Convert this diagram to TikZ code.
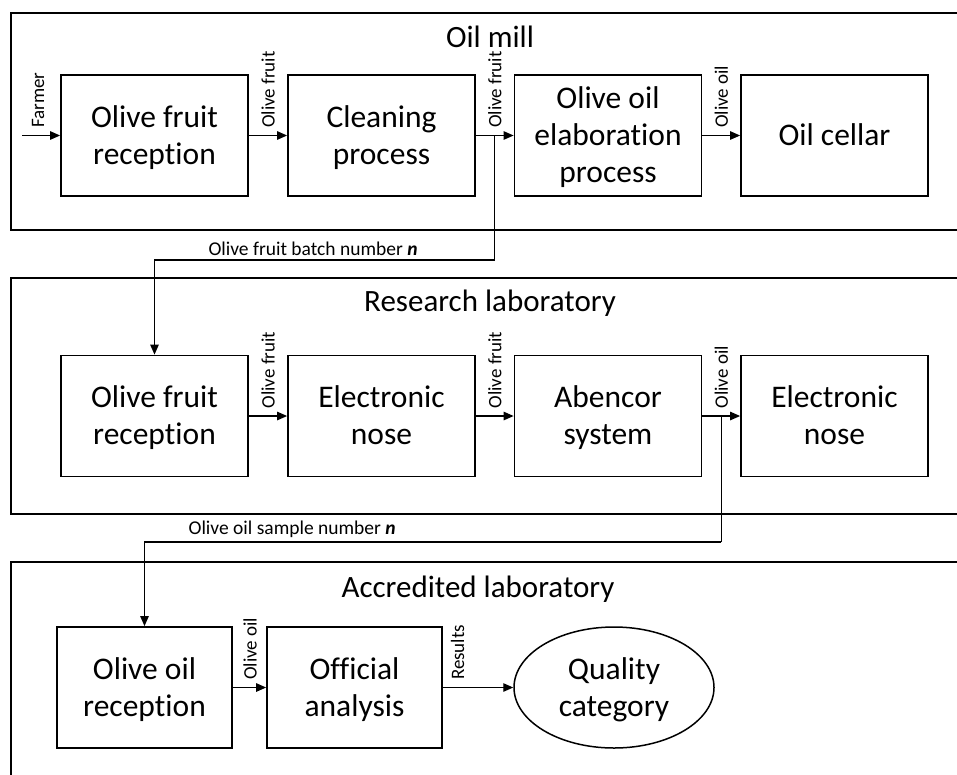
\documentclass[tikz,border=0pt]{standalone}
\usepackage{fontspec}
\setmainfont[Ligatures=NoCommon]{Carlito}
\usetikzlibrary{arrows.meta,shapes.geometric,calc}
\newcommand\ls{\rule[-8pt]{0pt}{36pt}}
\begin{document}
\begin{tikzpicture}[x=1pt,y=-1pt,
  section/.style={draw,line width=1.8pt,anchor=north west,inner sep=0pt},
  title/.style={font=\fontsize{31}{37}\selectfont,inner sep=0pt},
  proc/.style={draw,line width=1.8pt,minimum width=187pt,minimum height=121pt,inner sep=0pt,align=center,font=\fontsize{31.5}{37}\selectfont},
  procn/.style={proc,minimum width=175pt},
  oval/.style={draw,ellipse,line width=1.5pt,minimum width=200pt,minimum height=121pt,inner sep=0pt,align=center,font=\fontsize{31.5}{37}\selectfont},
  conn/.style={line width=1.2pt},
  arr/.style={conn,-{Triangle[length=10pt,width=8.5pt]}},
  lab/.style={rotate=90,anchor=west,inner sep=0pt,xshift=7pt,font=\fontsize{19}{22}\selectfont},
  blab/.style={anchor=south,inner sep=0pt,yshift=4pt,font=\fontsize{19.5}{22}\selectfont}
]
\useasboundingbox (0,0) rectangle (957,774);
\clip (0,0) rectangle (957,774);
\fill[white] (0,0) rectangle (957,774);

% sections
\node[section,minimum width=990pt,minimum height=217pt] (sec1) at (10,12) {};
\node[section,minimum width=990pt,minimum height=236pt] (sec2) at (10,277) {};
\node[section,minimum width=990pt,minimum height=260pt] (sec3) at (10,561) {};
\node[title] (t1) at (490,37) {Oil mill};
\node[title] (t2) at (490,303) {Research laboratory};
\node[title] (t3) at (478,589) {Accredited laboratory};

% row 1
\node[proc] (a1) at (154.5,135.5) {\ls Olive fruit\\\ls reception};
\node[proc] (a2) at (381.5,135.5) {\ls Cleaning\\\ls process};
\node[proc] (a3) at (608,135.5) {\ls Olive oil\\\ls elaboration\\\ls process};
\node[proc] (a4) at (834.5,135.5) {\ls Oil cellar};
\coordinate (farmer) at (22,135.5);

% row 2
\node[proc] (b1) at (154.5,416) {\ls Olive fruit\\\ls reception};
\node[proc] (b2) at (381.5,416) {\ls Electronic\\\ls nose};
\node[proc] (b3) at (608,416) {\ls Abencor\\\ls system};
\node[proc] (b4) at (834.5,416) {\ls Electronic\\\ls nose};

% row 3
\node[procn] (c1) at (144.5,687.5) {\ls Olive oil\\\ls reception};
\node[procn] (c2) at (354.5,687.5) {\ls Official\\\ls analysis};
\node[oval] (c3) at (614,687.5) {\ls Quality\\\ls category};

% connectors row 1
\draw[arr] (farmer) -- node[lab,pos=0.42]{Farmer} (a1.west);
\draw[arr] (a1) -- node[lab]{Olive fruit} (a2);
\draw[arr] (a2) -- node[lab]{Olive fruit} (a3);
\draw[arr] (a3) -- node[lab]{Olive oil} (a4);

% connectors row 2
\draw[arr] (b1) -- node[lab]{Olive fruit} (b2);
\draw[arr] (b2) -- node[lab]{Olive fruit} (b3);
\draw[arr] (b3) -- node[lab]{Olive oil} (b4);

% connectors row 3
\draw[arr] (c1) -- node[lab,pos=0.52]{Olive oil} (c2);
\draw[arr] (c2) -- node[lab,pos=0.21]{Results} (c3);

% branches
\coordinate (j1) at ($(a2.east)!0.5!(a3.west)$);
\draw[conn] (j1) -- (j1 |- 0,260) coordinate (k1);
\draw[arr] (k1) -- node[blab,pos=0.534]{Olive fruit batch number \textbf{\textit{n}}} (k1 -| b1.north) -- (b1.north);

\coordinate (j2) at ($(b3.east)!0.5!(b4.west)$);
\draw[conn] (j2) -- (j2 |- 0,542) coordinate (k2);
\draw[arr] (k2) -- node[blab,pos=0.744]{Olive oil sample number \textbf{\textit{n}}} (k2 -| c1.north) -- (c1.north);
\end{tikzpicture}
\end{document}
